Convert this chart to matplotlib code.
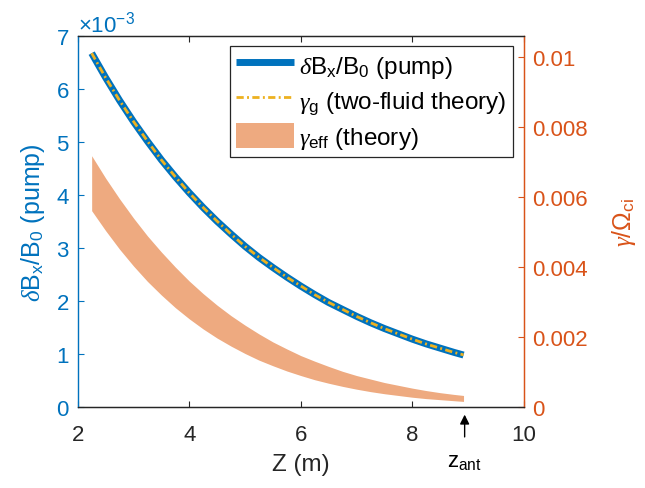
import matplotlib
matplotlib.use("Agg")
import matplotlib.pyplot as plt
from matplotlib.patches import Patch
from matplotlib.lines import Line2D
from matplotlib.ticker import ScalarFormatter

plt.rcParams['font.family'] = ['Liberation Sans', 'DejaVu Sans']
plt.rcParams['mathtext.fontset'] = 'custom'
plt.rcParams['mathtext.rm'] = 'Liberation Sans'
plt.rcParams['mathtext.it'] = 'Liberation Serif:italic'
plt.rcParams['mathtext.bf'] = 'Liberation Sans:bold'

# ---- data ----
z_pump = [2.25, 2.50, 2.75, 3.00, 3.25, 3.50, 3.75, 4.00, 4.25, 4.50, 4.75, 5.00, 5.25, 5.50,
          5.75, 6.00, 6.25, 6.50, 6.75, 7.00, 7.25, 7.50, 7.75, 8.00, 8.25, 8.50, 8.75, 8.92]
dBx_B0 = [6.67e-3, 6.21e-3, 5.78e-3, 5.38e-3, 5.01e-3, 4.66e-3, 4.34e-3, 4.04e-3, 3.76e-3,
          3.50e-3, 3.26e-3, 3.03e-3, 2.82e-3, 2.63e-3, 2.45e-3, 2.28e-3, 2.12e-3, 1.97e-3,
          1.84e-3, 1.71e-3, 1.59e-3, 1.48e-3, 1.38e-3, 1.28e-3, 1.19e-3, 1.11e-3, 1.03e-3, 0.98e-3]
gamma_g = [0.01011, 0.00941, 0.00876, 0.00816, 0.00760, 0.00706, 0.00658, 0.00612, 0.00570,
           0.00531, 0.00494, 0.00459, 0.00428, 0.00399, 0.00371, 0.00346, 0.00321, 0.00299,
           0.00279, 0.00259, 0.00241, 0.00224, 0.00209, 0.00194, 0.00180, 0.00168, 0.00156, 0.00149]

z_eff = [2.25, 2.50, 2.75, 3.00, 3.25, 3.50, 3.75, 4.00, 4.25, 4.50, 4.75, 5.00, 5.25, 5.50,
         5.75, 6.00, 6.25, 6.50, 6.75, 7.00, 7.25, 7.50, 7.75, 8.00, 8.25, 8.50, 8.75, 8.92]
gamma_eff_hi = [0.00718, 0.00654, 0.00595, 0.00540, 0.00489, 0.00443, 0.00400, 0.00360,
                0.00324, 0.00291, 0.00261, 0.00234, 0.00209, 0.00186, 0.00166, 0.00147,
                0.00131, 0.00116, 0.00102, 0.00090, 0.00080, 0.00070, 0.00062, 0.00054,
                0.00047, 0.00041, 0.00036, 0.00033]
gamma_eff_lo = [0.00561, 0.00504, 0.00451, 0.00403, 0.00359, 0.00320, 0.00284, 0.00252,
                0.00223, 0.00197, 0.00174, 0.00153, 0.00134, 0.00118, 0.00103, 0.00090,
                0.00078, 0.00068, 0.00059, 0.00051, 0.00044, 0.00038, 0.00033, 0.00028,
                0.00024, 0.00021, 0.00018, 0.00016]

z_ant = 8.94
xticks = [2, 4, 6, 8, 10]
yticks_left = [0, 1e-3, 2e-3, 3e-3, 4e-3, 5e-3, 6e-3, 7e-3]
yticks_right = [0, 0.002, 0.004, 0.006, 0.008, 0.01]
yticklabels_right = ['0', '0.002', '0.004', '0.006', '0.008', '0.01']

BLUE = '#0072BD'
ORANGE = '#D95319'
YELLOW = '#EDB120'
FILL = '#EEAA80'
DARK = '#262626'
FS = 16

fig = plt.figure(figsize=(6.45, 4.89), dpi=100)
ax = fig.add_axes([0.1205, 0.1656, 0.6915, 0.7594])
ax2 = ax.twinx()

ax.plot(z_pump, dBx_B0, color=BLUE, lw=5, solid_capstyle='butt')
ax2.fill_between(z_eff, gamma_eff_lo, gamma_eff_hi, color=FILL, lw=0)
ax2.plot(z_pump, gamma_g, color=YELLOW, lw=2, linestyle=(0, (2.6, 1.2, 0.7, 1.2)))

ax.set_xlim(2, 10)
ax.set_ylim(0, 7e-3)
ax2.set_ylim(0, 0.01061)

ax.set_xticks(xticks)
ax.set_xticklabels([str(t) for t in xticks])
ax.set_yticks(yticks_left)
fmt = ScalarFormatter(useMathText=True)
fmt.set_powerlimits((-2, 2))
ax.yaxis.set_major_formatter(fmt)
ax2.set_yticks(yticks_right)
ax2.set_yticklabels(yticklabels_right)

ax.tick_params(axis='x', direction='in', length=4, width=0.8, colors=DARK, labelsize=FS,
               top=True, pad=12)
ax.tick_params(axis='y', direction='in', length=4, width=0.8, colors=BLUE, labelsize=FS, pad=6)
ax2.tick_params(axis='y', direction='in', length=4, width=0.8, colors=ORANGE, labelsize=FS, pad=6)
ax.yaxis.offsetText.set_fontsize(FS)
ax.yaxis.offsetText.set_color(BLUE)

for a in (ax, ax2):
    a.spines['top'].set_color(DARK)
    a.spines['bottom'].set_color(DARK)
    a.spines['left'].set_color(BLUE)
    a.spines['right'].set_color(ORANGE)
    for s in a.spines.values():
        s.set_linewidth(0.9)
ax.spines['left'].set_color('#5A9FD4')

ax.set_xlabel('Z (m)', fontsize=17.5, color=DARK, labelpad=6)
ax.set_ylabel(r'$\delta$B$_{\rm x}$/B$_{\rm 0}$ (pump)', fontsize=18, color=BLUE, labelpad=6)
ax2.set_ylabel(r'$\gamma$/$\Omega_{\rm ci}$', fontsize=18, color=ORANGE, labelpad=16)

ax.annotate('', xy=(z_ant, -0.013), xycoords=('data', 'axes fraction'),
            xytext=(z_ant, -0.088), textcoords=('data', 'axes fraction'),
            arrowprops=dict(arrowstyle='-|>', color='black', lw=1, mutation_scale=14),
            annotation_clip=False)
ax.text(z_ant, -0.145, r'z$_{\rm ant}$', transform=ax.get_xaxis_transform(),
        ha='center', va='center', fontsize=FS, color='black', clip_on=False)

handles = [Line2D([], [], color=BLUE, lw=5, solid_capstyle='butt'),
           Line2D([], [], color=YELLOW, lw=2, linestyle=(0, (2.6, 1.2, 0.7, 1.2))),
           Patch(facecolor=FILL, edgecolor='none')]
labels = [r'$\delta$B$_{\rm x}$/B$_{\rm 0}$ (pump)',
          r'$\gamma_{\rm g}$ (two-fluid theory)',
          r'$\gamma_{\rm eff}$ (theory)']
leg = ax2.legend(handles, labels, loc='upper right', bbox_to_anchor=(0.975, 0.972),
                 borderaxespad=0, prop={'size': 17.5}, frameon=True, fancybox=False,
                 edgecolor=DARK, framealpha=1, handlelength=2.4, handleheight=1.2,
                 handletextpad=0.2, labelspacing=0.3, borderpad=0.25)
leg.get_frame().set_linewidth(0.9)

fig.savefig('out.png', dpi=100)
